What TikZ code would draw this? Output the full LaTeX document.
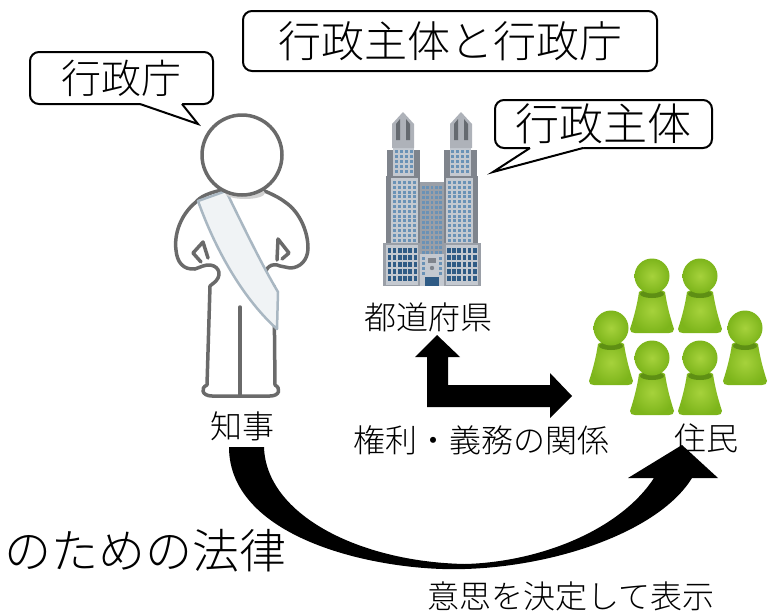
\documentclass[tikz,border=0pt]{standalone}
\usepackage{fontspec}
\newfontfamily\jp{Noto Sans CJK JP}[UprightFont=* Light]
\usetikzlibrary{calc}

\definecolor{figgray}{HTML}{6A6A6A}
\definecolor{sashline}{HTML}{A9B7C2}
\definecolor{sashfill}{HTML}{F0F3F5}
\definecolor{pawnmain}{HTML}{7DB51B}
\definecolor{pawnlight}{HTML}{A6D23C}
\definecolor{pawndark}{HTML}{5E8F14}
\definecolor{bgray}{HTML}{9A9FA7}
\definecolor{bdark}{HTML}{7F848C}
\definecolor{blight}{HTML}{C4C9D0}
\definecolor{bwin}{HTML}{6A92B6}
\definecolor{bwindark}{HTML}{2F5B85}

\tikzset{
  label jp/.style={font=\jp\fontsize{32pt}{36pt}\selectfont, inner sep=0pt},
  bubble/.style={draw=black, line width=2pt, rounded corners=9pt, fill=white,
    inner sep=0pt, font=\jp\fontsize{#1}{#1}\selectfont},
  tailline/.style={draw=black, line width=2pt, line join=miter},
  blockarrow/.style={fill=black},
  outline/.style={draw=figgray, line width=3.5pt, line join=round, line cap=round},
  pawn/.pic={
    \shade[inner color=pawnlight, outer color=pawnmain]
      (-13,16) .. controls (-15,30) and (-19,44) .. (-22,53)
      .. controls (-22,56) and (-20,57) .. (-17,57) -- (17,57)
      .. controls (20,57) and (22,56) .. (22,53)
      .. controls (19,44) and (15,30) .. (13,16)
      .. controls (8,12) and (-8,12) .. cycle;
    \fill[pawndark] (0,18) ellipse (12 and 4);
    \shade[inner color=pawnlight, outer color=pawnmain] (0,0) circle (17.5);
  }
}

\begin{document}
\begin{tikzpicture}[x=1pt, y=-1pt]
\useasboundingbox (0,0) rectangle (768,613);

% ---------- speech bubbles ----------
\node[bubble=43pt, minimum width=414pt, minimum height=60pt] (title) at (450,41) {行政主体と行政庁};

\node[bubble=40pt, minimum width=183pt, minimum height=52pt] (govoffice) at (121.5,78) {行政庁};
\coordinate (tipA) at (198,124);
\fill[white] (140,101) -- (140,104) -- (tipA) -- (182,104) -- (182,101) -- cycle;
\draw[tailline] (140,104) -- (tipA) -- (182,104);

\node[bubble=44pt, minimum width=217pt, minimum height=48pt] (govbody) at (603.5,124) {行政主体};
\coordinate (tipB) at (493,172);
\fill[white] (530,145) -- (530,148) -- (tipB) -- (583,148) -- (583,145) -- cycle;
\draw[tailline] (530,148) -- (tipB) -- (583,148);

% ---------- governor figure ----------
\filldraw[outline, fill=white]
  (222,190) .. controls (208,193) and (200,197) .. (196,202)
  .. controls (180,215) and (174,235) .. (176,250)
  .. controls (177,262) and (183,270) .. (195,269)
  -- (203,266)
  .. controls (214,262) and (222,270) .. (218,278)
  .. controls (216,282) and (212,284) .. (210,286)
  -- (207,385)
  .. controls (200,388) and (202,396) .. (212,396)
  -- (270,396)
  .. controls (280,396) and (281,388) .. (275,385)
  -- (274,286)
  .. controls (270,284) and (266,280) .. (266,276)
  .. controls (264,268) and (272,262) .. (280,266)
  -- (290,268)
  .. controls (300,268) and (308,260) .. (308,248)
  .. controls (308,232) and (300,212) .. (285,202)
  .. controls (280,198) and (270,193) .. (262,190) -- cycle;
% sash
\filldraw[draw=sashline, fill=sashfill, line width=2.5pt, line join=round]
  (198,201) -- (226,191)
  .. controls (245,230) and (262,265) .. (278,292)
  -- (277,329)
  .. controls (250,305) and (220,262) .. (198,201) -- cycle;
% legs and thumbs
\draw[outline] (240,307) -- (240,395);
\draw[outline] (201,262) -- (193,253) -- (203,242) -- (208,258);
\draw[outline] (277,260) -- (278,239) -- (289,253) -- (282,259);
% neck shadow and head
\fill[black!18] (245,193) ellipse (20 and 6);
\filldraw[outline, fill=white] (242,155) circle (40);

% ---------- city hall ----------
\begin{scope}
  % centre block
  \fill[bgray] (420,182) rectangle (444,286);
  \foreach \r in {0,...,13} \foreach \c in {0,...,4}
    \fill[bwin] (422+\c*4.3,186+\r*5) rectangle +(2.6,3);
  \fill[blight] (420,254) rectangle (444,286);
  \foreach \r in {0,...,3} \fill[bwin] (422,257+\r*5) rectangle +(3,3);
  \foreach \r in {0,...,3} \fill[bwin] (439,257+\r*5) rectangle +(3,3);
  \fill[bdark] (428,258) rectangle (436,263);
  \fill[bdark] (432,268) circle (2.2);
  \fill[bwindark] (425,277) rectangle (439,286);
\end{scope}
\foreach \mir/\sh in {1/0,-1/864}{
\begin{scope}[shift={(\sh,0)}, xscale=\mir]
  % lower tier
  \fill[bgray] (383,243) rectangle (420,286);
  \fill[blight] (386,245) rectangle (418,285);
  \foreach \r in {0,...,4} \foreach \c in {0,...,5}
    \fill[bwindark] (387.5+\c*5.2,248+\r*7) rectangle +(3.6,4.5);
  % middle tier
  \fill[bdark] (386,176) rectangle (420,243);
  \fill[blight] (391,178) rectangle (418,243);
  \foreach \r in {0,...,12} \foreach \c in {0,...,4}
    \fill[bwin] (393+\c*5,181+\r*4.8) rectangle +(3,3);
  % upper tier
  \fill[bdark] (387,150) rectangle (420,176);
  \fill[blight] (393,146) rectangle (414,176);
  \foreach \r in {0,...,4} \foreach \c in {0,...,3}
    \fill[bwin] (395+\c*5,150+\r*5) rectangle +(3,3);
  % crown
  \fill[bgray!80] (392,148) -- (392,124) -- (403,112) -- (414,124) -- (414,148) -- cycle;
  \fill[bdark!80!black] (396,140) -- (396,124) -- (400,119) -- (400,140) -- cycle;
  \fill[bdark!80!black] (406,119) -- (410,124) -- (410,140) -- (406,140) -- cycle;
\end{scope}}

% ---------- residents ----------
\pic at (652,276) {pawn};
\pic at (700,276) {pawn};
\pic at (611,328) {pawn};
\pic at (745,328) {pawn};
\pic at (652,358) {pawn};
\pic at (700,358) {pawn};

% ---------- labels ----------
\node[label jp] (pref) at (428,317) {都道府県};
\node[label jp] (gov) at (242,426) {知事};
\node[label jp] (res) at (706,438) {住民};
\node[label jp] (rel) at (481,440) {権利・義務の関係};
\node[label jp] (decl) at (571,596) {意思を決定して表示};
\node[font=\jp\fontsize{47pt}{50pt}\selectfont, inner sep=0pt, anchor=west] (law) at (4,551) {のための法律};

% ---------- block arrows ----------
\fill[blockarrow] (437,335) -- (460,357) -- (448,357) -- (448,385) -- (550,385)
  -- (550,373) -- (572,396) -- (550,418) -- (550,407) -- (427,407) -- (427,357)
  -- (415,357) -- cycle;

\fill[blockarrow] (229,447) .. controls (229,540) and (380,572) .. (465,569)
  .. controls (560,566) and (660,530) .. (692,478)
  -- (718,478) -- (682,445) -- (628,478) -- (654,478)
  .. controls (620,530) and (540,562) .. (465,564)
  .. controls (360,562) and (266,515) .. (264,447) -- cycle;
\end{tikzpicture}
\end{document}
